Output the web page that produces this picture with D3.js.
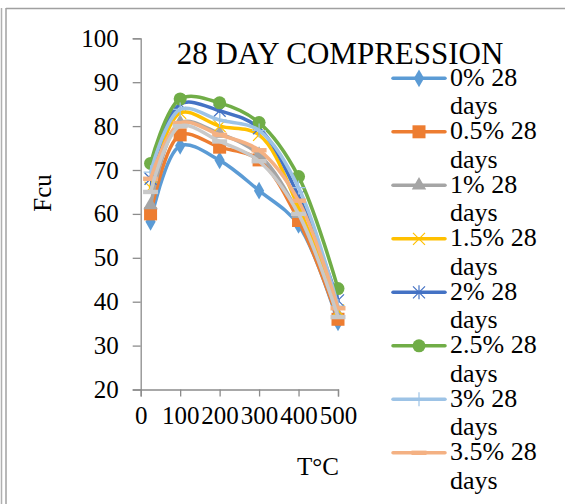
<!DOCTYPE html>
<html>
<head>
<meta charset="utf-8">
<script src="https://cdn.jsdelivr.net/npm/d3@7"></script>
<style>
  body { margin: 0; background: #fff; }
</style>
</head>
<body>
<svg id="chart" width="565" height="504"></svg>
<script>
// temperatures (deg C)
var temps = [25, 100, 200, 300, 400, 500];

var seriesNames = ["0% 28 days", "0.5% 28 days", "1% 28 days", "1.5% 28 days",
  "2% 28 days", "2.5% 28 days", "3% 28 days", "3.5% 28 days", "4% 28 days"];

var fcu0   = [58.2, 75.5, 72.2, 65.3, 57.5, 35.3];
var fcu05  = [60.0, 78.0, 75.2, 72.3, 58.5, 36.0];
var fcu1   = [62.0, 80.8, 78.3, 73.5, 60.0, 37.0];
var fcu15  = [66.0, 83.0, 80.0, 78.0, 61.5, 38.0];
var fcu2   = [68.0, 85.0, 83.5, 79.5, 64.0, 40.3];
var fcu25  = [71.5, 86.2, 85.3, 80.8, 68.5, 43.0];
var fcu3   = [69.5, 83.8, 81.4, 79.0, 66.0, 39.0];
var fcu35  = [68.0, 80.7, 78.0, 74.5, 63.0, 38.5];
var fcu4   = [65.0, 80.0, 76.5, 72.0, 60.0, 36.5];

var yTicks = [20, 30, 40, 50, 60, 70, 80, 90, 100];
var xTicks = [0, 100, 200, 300, 400, 500];

var colors = ["#5b9bd5", "#ed7d31", "#a5a5a5", "#ffc000", "#4472c4", "#70ad47", "#9dc3e6", "#f4b183", "#c9c9c9"];
var markers = ["diamond", "square", "triangle", "x", "star", "circle", "plus", "dash", "dash"];

var allData = [fcu0, fcu05, fcu1, fcu15, fcu2, fcu25, fcu3, fcu35, fcu4];

var serif = "'Liberation Serif', 'Times New Roman', serif";

var svg = d3.select("#chart");

// frame lines
svg.append("line").attr("x1", 1.5).attr("x2", 1.5).attr("y1", 8).attr("y2", 504)
  .attr("stroke", "#b0b0b0").attr("stroke-width", 1.5);
svg.append("line").attr("x1", 6).attr("x2", 6).attr("y1", 8).attr("y2", 504)
  .attr("stroke", "#a0a0a0").attr("stroke-width", 1.5);
svg.append("line").attr("x1", 6).attr("x2", 565).attr("y1", 8.5).attr("y2", 8.5)
  .attr("stroke", "#a0a0a0").attr("stroke-width", 1.5);

var x = d3.scaleLinear().domain([0, 500]).range([140.7, 338]);
var y = d3.scaleLinear().domain([20, 100]).range([389.5, 38.3]);

// y axis
var yAxis = svg.append("g")
  .attr("transform", "translate(140.7,0)")
  .call(d3.axisLeft(y).tickValues(yTicks).tickSize(8).tickPadding(14));

// x axis
var xAxis = svg.append("g")
  .attr("transform", "translate(0,389.5)")
  .call(d3.axisBottom(x).tickValues(xTicks).tickSize(7).tickPadding(10).tickFormat(d3.format("d")));

svg.selectAll(".tick text").attr("font-family", serif).attr("font-size", 25).attr("fill", "#000");
svg.selectAll(".domain, .tick line").attr("stroke", "#8c8c8c").attr("stroke-width", 1.3);

// titles
svg.append("text").attr("x", 340).attr("y", 64).attr("text-anchor", "middle")
  .attr("font-family", serif).attr("font-size", 31).text("28 DAY COMPRESSION");
svg.append("text").attr("x", 318).attr("y", 475).attr("text-anchor", "middle")
  .attr("font-family", serif).attr("font-size", 25).text("T°C");
svg.append("text").attr("transform", "translate(51,193) rotate(-90)").attr("text-anchor", "middle")
  .attr("font-family", serif).attr("font-size", 25).text("Fcu");

function drawMarker(g, type, color) {
  if (type == "diamond") {
    g.append("path").attr("d", d3.symbol().type(d3.symbolDiamond).size(90)).attr("fill", color);
  } else if (type == "square") {
    g.append("rect").attr("x", -6.5).attr("y", -6.5).attr("width", 13).attr("height", 13).attr("fill", color);
  } else if (type == "triangle") {
    g.append("path").attr("d", d3.symbol().type(d3.symbolTriangle).size(90)).attr("fill", color);
  } else if (type == "circle") {
    g.append("circle").attr("r", 6.5).attr("fill", color);
  } else if (type == "x") {
    g.append("path").attr("d", "M-6,-6L6,6M-6,6L6,-6").attr("stroke", color).attr("stroke-width", 1.2);
  } else if (type == "star") {
    g.append("path").attr("d", "M-6,-6L6,6M-6,6L6,-6M0,-7L0,7").attr("stroke", color).attr("stroke-width", 1.2);
  } else if (type == "plus") {
    g.append("path").attr("d", "M-7,0L7,0M0,-7L0,7").attr("stroke", color).attr("stroke-width", 1.2);
  } else if (type == "dash") {
    g.append("rect").attr("x", -7.5).attr("y", -2.2).attr("width", 15).attr("height", 4.4).attr("fill", color);
  }
}

var line = d3.line()
  .x(function(d, i) { return x(temps[i]); })
  .y(function(d) { return y(d); })
  .curve(d3.curveCatmullRom.alpha(0.5));

allData.forEach(function(vals, s) {
  var g = svg.append("g");
  g.append("path").datum(vals).attr("d", line)
    .attr("fill", "none").attr("stroke", colors[s]).attr("stroke-width", 3.5)
    .attr("stroke-linecap", "round");
  vals.forEach(function(v, i) {
    var m = g.append("g").attr("transform", "translate(" + x(temps[i]) + "," + y(v) + ")");
    drawMarker(m, markers[s], colors[s]);
  });
});

// legend: only the first 8 entries fit in the picture
seriesNames.slice(0, 8).forEach(function(name, s) {
  var ly = 78.3 + s * 53.5;
  var g = svg.append("g");
  g.append("line").attr("x1", 393).attr("x2", 445).attr("y1", ly).attr("y2", ly)
    .attr("stroke", colors[s]).attr("stroke-width", 3.5).attr("stroke-linecap", "round");
  var m = g.append("g").attr("transform", "translate(419," + ly + ")");
  drawMarker(m, markers[s], colors[s]);
  var parts = name.split(" ");
  g.append("text").attr("x", 450).attr("y", ly + 7.5)
    .attr("font-family", serif).attr("font-size", 26)
    .text(parts[0] + " " + parts[1]);
  g.append("text").attr("x", 450).attr("y", ly + 36)
    .attr("font-family", serif).attr("font-size", 26)
    .text(parts[2]);
});
</script>
</body>
</html>
